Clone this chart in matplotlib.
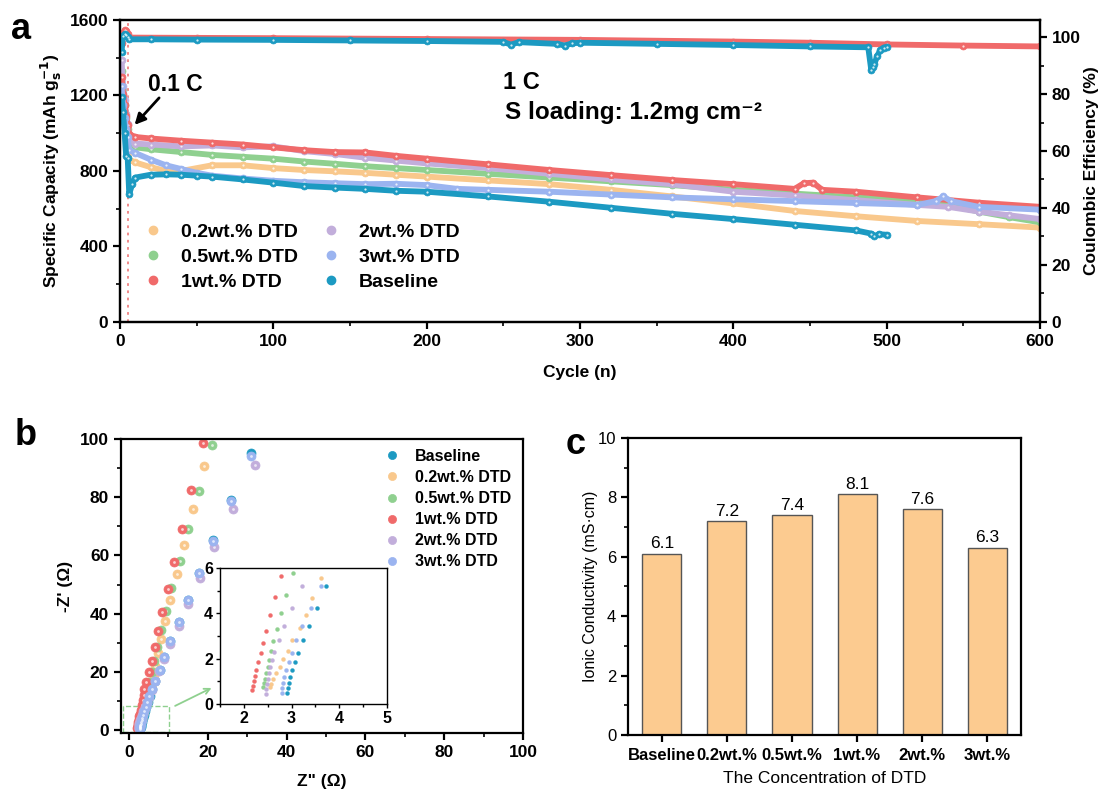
import matplotlib
matplotlib.use('Agg')
import matplotlib.pyplot as plt
from matplotlib.lines import Line2D
from matplotlib.patches import Rectangle
from matplotlib.ticker import MultipleLocator

plt.rcParams['font.family'] = ['Liberation Sans', 'DejaVu Sans']
plt.rcParams['axes.linewidth'] = 1.6
plt.rcParams['xtick.major.width'] = 1.6
plt.rcParams['ytick.major.width'] = 1.6
plt.rcParams['xtick.minor.width'] = 1.2
plt.rcParams['ytick.minor.width'] = 1.2
plt.rcParams['xtick.major.size'] = 5
plt.rcParams['ytick.major.size'] = 5
plt.rcParams['xtick.minor.size'] = 3
plt.rcParams['ytick.minor.size'] = 3

# ---- colours ----
c_02 = '#F9C88C'
c_05 = '#8FD08F'
c_1 = '#F06A6A'
c_2 = '#C2AEDB'
c_3 = '#9BB4F0'
c_base = '#1C9AC2'

# ---- panel a: cycling (capacity, mAh/g) ----
cyc_02 = [1, 2, 3, 4, 5, 6, 10, 20, 30, 40, 60, 80, 100, 120, 140, 160, 180, 200, 240, 280,
          320, 360, 400, 440, 480, 520, 560, 600]
cap_02 = [1200, 1120, 1060, 1000, 950, 860, 845, 820, 800, 800, 830, 830, 815, 805, 798, 790, 780,
          770, 750, 730, 700, 665, 628, 588, 560, 535, 518, 500]

cyc_05 = [1, 2, 3, 4, 5, 6, 10, 20, 40, 60, 80, 100, 120, 140, 160, 180, 200, 240, 280, 320,
          360, 400, 440, 480, 520, 540, 560, 580, 600]
cap_05 = [1330, 1230, 1150, 1080, 1020, 930, 925, 915, 900, 885, 875, 865, 850, 838, 825, 815,
          805, 785, 765, 745, 725, 700, 680, 660, 640, 620, 585, 555, 528]

cyc_1 = [1, 2, 3, 4, 5, 6, 10, 20, 40, 60, 80, 100, 120, 140, 160, 180, 200, 240, 280, 320,
         360, 400, 440, 446, 452, 458, 480, 520, 560, 600]
cap_1 = [1300, 1210, 1150, 1090, 1044, 995, 980, 972, 960, 950, 940, 925, 910, 900, 898, 880,
         865, 835, 805, 778, 752, 730, 705, 735, 738, 700, 690, 660, 632, 610]

cyc_2 = [1, 2, 3, 4, 5, 6, 10, 20, 40, 60, 80, 100, 120, 140, 160, 180, 200, 240, 280, 320,
         360, 400, 440, 480, 520, 540, 560, 580, 600]
cap_2 = [1390, 1250, 1176, 1100, 1050, 960, 945, 940, 930, 935, 925, 930, 905, 890, 870, 855,
         840, 815, 785, 755, 730, 690, 670, 645, 620, 610, 585, 565, 545]

cyc_3 = [1, 2, 3, 4, 5, 6, 10, 20, 30, 40, 50, 60, 80, 100, 120, 140, 160, 180, 200, 220, 240,
         280, 320, 360, 400, 440, 480, 520, 532, 537, 542, 560, 600]
cap_3 = [1250, 1150, 1080, 1020, 980, 910, 895, 860, 830, 810, 790, 775, 760, 748, 740, 735, 730,
         732, 725, 705, 700, 690, 675, 660, 650, 640, 630, 620, 640, 665, 640, 610, 595]

cyc_base = [1, 2, 3, 4, 5, 6, 8, 10, 20, 30, 40, 50, 60, 80, 100, 120, 140, 160, 180, 200, 240,
            280, 320, 360, 400, 440, 480, 490, 492, 495, 500]
cap_base = [1190, 1110, 1000, 880, 870, 680, 730, 765, 780, 782, 780, 775, 770, 755, 738, 720,
            712, 705, 695, 690, 665, 637, 605, 573, 545, 515, 485, 468, 455, 465, 462]

# coulombic efficiency (%)
ce_cyc_1 = [1, 2, 3, 4, 5, 6, 50, 100, 200, 300, 400, 450, 500, 550, 600]
ce_1 = [98, 101.5, 102.3, 102, 101, 99.8, 99.7, 99.6, 99.3, 99.0, 98.4, 98.0, 97.4, 97.0, 96.7]
ce_cyc_base = [1, 2, 3, 4, 5, 6, 20, 50, 100, 150, 200, 250, 255, 260, 285, 290, 295, 300, 350,
               400, 450, 488, 490, 491, 492, 494, 496, 498, 500]
ce_base = [94.8, 100.5, 101, 100.6, 100, 99.2, 99.2, 99.1, 99.0, 98.8, 98.6, 98.3, 97.3, 98.2,
           97.6, 97.0, 97.8, 98.0, 97.6, 97.2, 96.7, 96.4, 88.3, 89.4, 90.6, 93.5, 95.5, 96.3, 96.5]

# ---- panel b: Nyquist (Z', -Z'') ----
zr_base = [2.91, 2.92, 2.94, 2.97, 3.00, 3.07, 3.14, 3.25, 3.37, 3.54, 3.73, 4.0, 4.4, 4.8, 5.3,
           5.9, 6.7, 7.9, 9.0, 10.5, 12.7, 15.1, 17.8, 21.4, 25.9, 31.1]
zi_base = [0.47, 0.69, 0.91, 1.18, 1.50, 1.83, 2.24, 2.80, 3.42, 4.23, 5.22, 6.4, 7.9, 9.6, 11.7,
           14.0, 16.9, 20.6, 25.0, 30.7, 37.0, 44.8, 53.9, 65.2, 78.9, 95.1]
zr_02 = [2.54, 2.57, 2.62, 2.68, 2.75, 2.83, 2.92, 3.02, 3.17, 3.30, 3.44, 3.61, 3.85, 4.1, 4.5,
         4.9, 5.3, 5.8, 6.3, 6.7, 7.4, 8.2, 9.2, 10.5, 12.2, 14.0, 16.2, 19.1]
zi_02 = [0.75, 0.90, 1.10, 1.37, 1.65, 1.98, 2.35, 2.80, 3.33, 3.93, 4.67, 5.56, 6.7, 8.0, 9.6,
         11.4, 13.5, 16.0, 18.8, 22.0, 26.4, 31.4, 37.5, 44.7, 53.5, 63.7, 76.0, 90.7]
zr_05 = [2.41, 2.42, 2.44, 2.47, 2.50, 2.53, 2.58, 2.62, 2.70, 2.78, 2.89, 3.03, 3.3, 3.6, 3.9,
         4.3, 4.7, 5.2, 5.8, 6.4, 7.1, 8.1, 9.3, 10.8, 12.9, 15.1, 17.7, 21.2]
zi_05 = [0.74, 0.91, 1.12, 1.36, 1.62, 1.95, 2.35, 2.77, 3.32, 4.01, 4.82, 5.78, 7.0, 8.4, 10.0,
         11.8, 14.0, 16.6, 19.8, 23.7, 28.6, 34.4, 40.9, 48.7, 58.0, 69.0, 82.2, 97.9]
zr_1 = [2.17, 2.19, 2.21, 2.24, 2.26, 2.30, 2.35, 2.40, 2.47, 2.55, 2.66, 2.78, 3.0, 3.3, 3.55,
        3.75, 3.9, 4.4, 5.0, 5.8, 6.6, 7.4, 8.5, 9.8, 11.5, 13.5, 15.7, 18.7]
zi_1 = [0.62, 0.80, 1.00, 1.24, 1.50, 1.83, 2.24, 2.70, 3.24, 3.91, 4.70, 5.65, 7.0, 8.6, 10.2,
        12.0, 14.0, 16.6, 19.8, 23.8, 28.4, 34.0, 40.5, 48.4, 57.8, 69.0, 82.5, 98.5]
zr_2 = [2.46, 2.47, 2.49, 2.51, 2.53, 2.55, 2.59, 2.64, 2.73, 2.85, 3.00, 3.23, 3.55, 4.0, 4.5,
        5.1, 5.8, 6.7, 7.7, 8.9, 10.4, 12.6, 15.0, 18.0, 21.7, 26.3, 32.0]
zi_2 = [0.44, 0.65, 0.88, 1.12, 1.36, 1.62, 1.95, 2.29, 2.80, 3.42, 4.23, 5.22, 6.4, 7.8, 9.4,
        11.4, 13.8, 16.7, 20.2, 24.5, 29.7, 35.8, 43.2, 52.2, 63.0, 75.8, 91.1]
zr_3 = [2.80, 2.81, 2.83, 2.85, 2.89, 2.94, 3.00, 3.09, 3.22, 3.40, 3.61, 3.9, 4.3, 4.7, 5.2,
        5.8, 6.6, 7.9, 9.0, 10.5, 12.7, 15.1, 17.8, 21.4, 25.9, 31.0]
zi_3 = [0.47, 0.69, 0.91, 1.18, 1.50, 1.83, 2.24, 2.80, 3.42, 4.23, 5.22, 6.4, 7.9, 9.6, 11.7,
        14.0, 16.9, 20.6, 25.0, 30.7, 37.0, 44.7, 53.8, 65.0, 78.7, 94.0]

# ---- panel c: ionic conductivity ----
conc = ['Baseline', '0.2wt.%', '0.5wt.%', '1wt.%', '2wt.%', '3wt.%']
sigma = [6.1, 7.2, 7.4, 8.1, 7.6, 6.3]

fig = plt.figure(figsize=(11.02, 7.94), dpi=100)


def band(a, x, y, c):
    # thick band of glossy dots
    a.plot(x, y, '-', color=c, lw=4.2, solid_capstyle='round', solid_joinstyle='round')
    a.plot(x, y, 'o', ms=5, mfc=c, mec=c, mew=0.5)
    a.plot(x, y, 'o', ms=1.6, mfc='white', mec='none', alpha=0.8)


# ================= panel a =================
ax = fig.add_axes([0.1089, 0.5945, 0.8348, 0.3804])
axr = ax.twinx()

series_a = [
    (cyc_02, cap_02, c_02),
    (cyc_05, cap_05, c_05),
    (cyc_2, cap_2, c_2),
    (cyc_1, cap_1, c_1),
    (cyc_3, cap_3, c_3),
    (cyc_base, cap_base, c_base),
]
for x, y, c in series_a:
    band(ax, x, y, c)

band(axr, ce_cyc_1, ce_1, c_1)
band(axr, ce_cyc_base, ce_base, c_base)

ax.axvline(5, color='#F08080', ls=(0, (1.5, 2.5)), lw=1.3, zorder=0)

ax.set_xlim(0, 600)
ax.set_ylim(0, 1600)
axr.set_ylim(0, 106)
ax.xaxis.set_major_locator(MultipleLocator(100))
ax.xaxis.set_minor_locator(MultipleLocator(50))
ax.yaxis.set_major_locator(MultipleLocator(400))
ax.yaxis.set_minor_locator(MultipleLocator(200))
axr.yaxis.set_major_locator(MultipleLocator(20))
axr.yaxis.set_minor_locator(MultipleLocator(10))
for a in (ax, axr):
    a.tick_params(which='both', direction='out', labelsize=12.5)
    for lab in a.get_xticklabels() + a.get_yticklabels():
        lab.set_fontweight('bold')
ax.set_xlabel('Cycle (n)', fontsize=12.5, fontweight='bold', labelpad=12)
ax.set_ylabel(r'Specific Capacity (mAh g$_\mathbf{s}^\mathbf{-1}$)', fontsize=12.5,
              fontweight='bold', labelpad=4)
axr.set_ylabel('Coulombic Efficiency (%)', fontsize=12.5, fontweight='bold', labelpad=2)

ax.text(36, 1256, '0.1 C', ha='center', va='center', fontsize=16.5, fontweight='bold')
ax.annotate('', xy=(9.5, 1044), xytext=(25.5, 1187),
            arrowprops=dict(arrowstyle='-|>', color='black', lw=2, mutation_scale=16,
                            shrinkA=0, shrinkB=0))
ax.text(250, 1266, '1 C', fontsize=17, fontweight='bold', va='center')
ax.text(251, 1107, 'S loading: 1.2mg cm⁻²', fontsize=17.5, fontweight='bold', va='center')

handles_a = [Line2D([], [], ls='none', marker='o', ms=6, mfc=c, mec=c)
             for c in (c_02, c_05, c_1, c_2, c_3, c_base)]
labels_a = ['0.2wt.% DTD', '0.5wt.% DTD', '1wt.% DTD', '2wt.% DTD', '3wt.% DTD', 'Baseline']
ax.legend(handles_a, labels_a, ncol=2, loc='upper left', bbox_to_anchor=(0.006, 0.385),
          frameon=False, prop={'weight': 'bold', 'size': 14}, handlelength=1.0,
          handletextpad=0.95, columnspacing=1.2, labelspacing=0.38)

# ================= panel b =================
axb = fig.add_axes([0.1098, 0.0768, 0.3648, 0.3703])
series_b = [
    (zr_base, zi_base, c_base, 'Baseline'),
    (zr_02, zi_02, c_02, '0.2wt.% DTD'),
    (zr_05, zi_05, c_05, '0.5wt.% DTD'),
    (zr_1, zi_1, c_1, '1wt.% DTD'),
    (zr_2, zi_2, c_2, '2wt.% DTD'),
    (zr_3, zi_3, c_3, '3wt.% DTD'),
]
for x, y, c, lab in series_b:
    axb.plot(x, y, 'o', ms=6.5, mfc=c, mec=c, mew=0.5, label=lab)
    axb.plot(x, y, 'o', ms=2, mfc='white', mec='none', alpha=0.7)
axb.set_xlim(-2, 100)
axb.set_ylim(-1, 100)
axb.xaxis.set_major_locator(MultipleLocator(20))
axb.xaxis.set_minor_locator(MultipleLocator(10))
axb.yaxis.set_major_locator(MultipleLocator(20))
axb.yaxis.set_minor_locator(MultipleLocator(10))
axb.tick_params(which='both', direction='out', labelsize=12.5)
for lab in axb.get_xticklabels() + axb.get_yticklabels():
    lab.set_fontweight('bold')
axb.set_xlabel('Z" (Ω)', fontsize=12.5, fontweight='bold', labelpad=10)
axb.set_ylabel("-Z' (Ω)", fontsize=12.5, fontweight='bold', labelpad=5)
axb.legend(loc='upper left', bbox_to_anchor=(0.615, 1.015), frameon=False,
           prop={'weight': 'bold', 'size': 11.5}, handlelength=1.2, handletextpad=0.8,
           labelspacing=0.38, markerscale=0.9)

axb.add_patch(Rectangle((-1.5, -0.6), 11.7, 8.9, fill=False, ls='--', lw=1.0, ec='#8FD08F'))
axb.annotate('', xy=(21.6, 14.9), xytext=(11.1, 7.9),
             arrowprops=dict(arrowstyle='->', color='#8FD08F', lw=1.3))

axi = fig.add_axes([0.1996, 0.1134, 0.1515, 0.1713])
for x, y, c, lab in series_b:
    axi.plot(x, y, 'o', ms=2.8, mfc=c, mec=c, mew=0.3)
axi.set_xlim(1.5, 5)
axi.set_ylim(0, 6)
axi.xaxis.set_major_locator(MultipleLocator(1))
axi.xaxis.set_minor_locator(MultipleLocator(0.5))
axi.yaxis.set_major_locator(MultipleLocator(2))
axi.yaxis.set_minor_locator(MultipleLocator(1))
for s in axi.spines.values():
    s.set_linewidth(1.0)
axi.tick_params(which='both', direction='out', labelsize=11.5, width=1.0, pad=2)
axi.tick_params(which='major', length=3)
axi.tick_params(which='minor', length=2)
for lab in axi.get_xticklabels() + axi.get_yticklabels():
    lab.set_fontweight('bold')

# ================= panel c =================
axc = fig.add_axes([0.5699, 0.0743, 0.3566, 0.3741])
pos = range(len(conc))
axc.bar(pos, sigma, width=0.6, color='#FCCB90', edgecolor='#555555', linewidth=1.0)
for p, v in zip(pos, sigma):
    axc.text(p, v + 0.08, f'{v}', ha='center', va='bottom', fontsize=12.5)
axc.set_xlim(-0.52, 5.52)
axc.set_ylim(0, 10)
axc.set_xticks(list(pos))
axc.set_xticklabels(conc, fontweight='bold', fontsize=11.5)
axc.yaxis.set_major_locator(MultipleLocator(2))
axc.yaxis.set_minor_locator(MultipleLocator(1))
axc.tick_params(which='both', direction='out', labelsize=12)
axc.tick_params(axis='x', pad=4)
axc.set_xlabel('The Concentration of DTD', fontsize=12.5, labelpad=6)
axc.set_ylabel('Ionic Conductivity (mS·cm)', fontsize=11.5, labelpad=0)

# panel letters
fig.text(0.010, 0.985, 'a', fontsize=26, fontweight='bold', va='top')
fig.text(0.013, 0.474, 'b', fontsize=26, fontweight='bold', va='top')
fig.text(0.513, 0.462, 'c', fontsize=26, fontweight='bold', va='top')

fig.savefig('out.png', dpi=100)
